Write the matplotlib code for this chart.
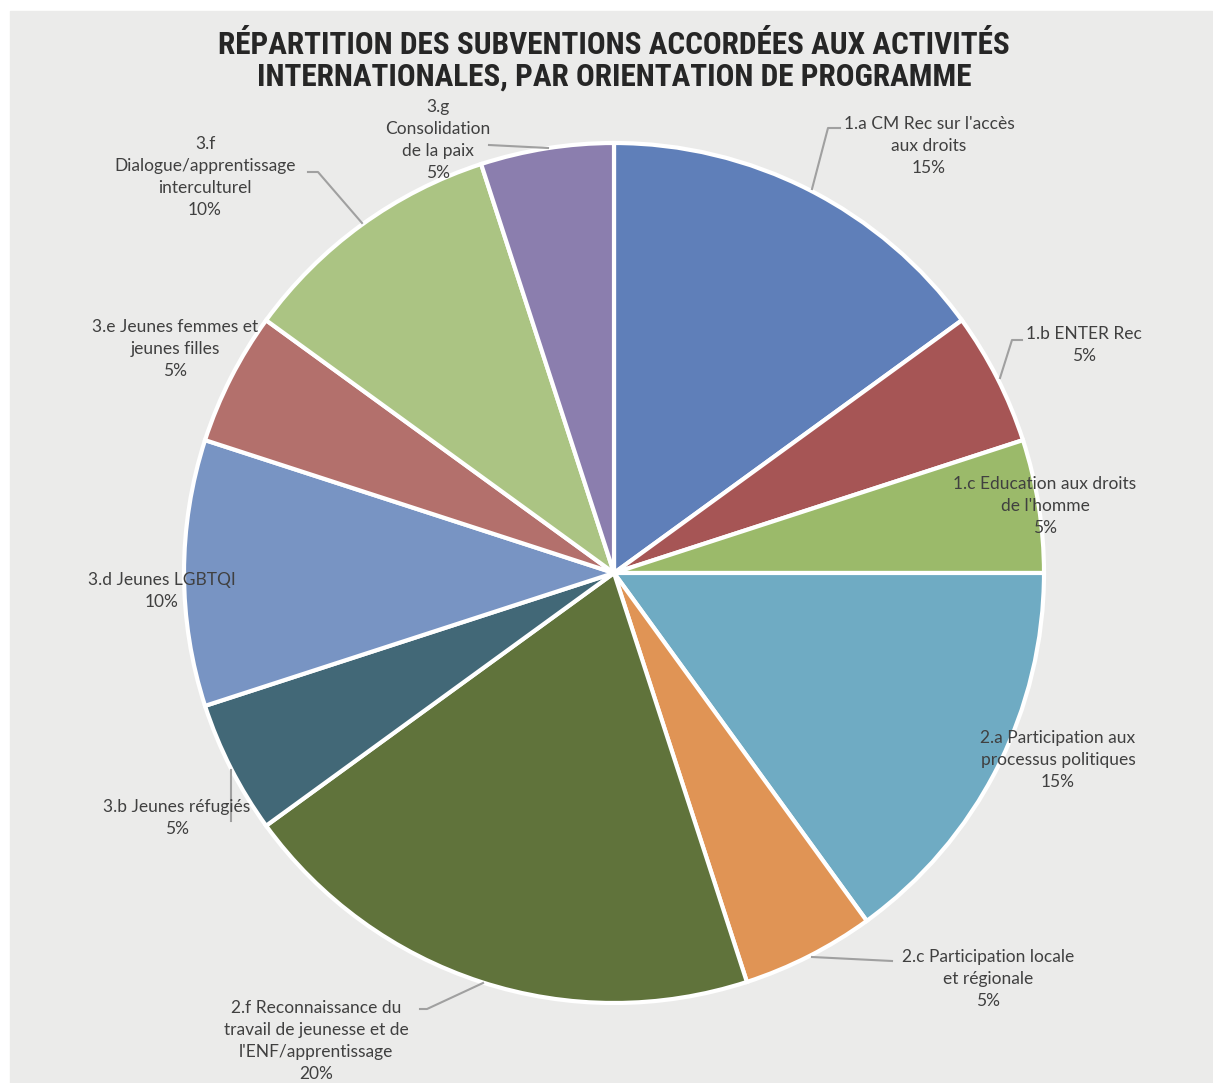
import matplotlib.pyplot as plt
from matplotlib.patches import Rectangle

# Data
labels = ["1.a CM Rec sur l'accès\naux droits", "1.b ENTER Rec", "1.c Education aux droits\nde l'homme",
          "2.a Participation aux\nprocessus politiques", "2.c Participation locale\net régionale",
          "2.f Reconnaissance du\ntravail de jeunesse et de\nl'ENF/apprentissage", "3.b Jeunes réfugiés",
          "3.d Jeunes LGBTQI", "3.e Jeunes femmes et\njeunes filles", "3.f\nDialogue/apprentissage\ninterculturel",
          "3.g\nConsolidation\nde la paix"]
shares = [15, 5, 5, 15, 5, 20, 5, 10, 5, 10, 5]
colors = ['#5F7FB9', '#A65555', '#9BBA6A', '#6FABC3', '#E09455', '#60733B',
          '#426877', '#7894C3', '#B3706C', '#ABC483', '#8B7EAE']

W, H = 1213, 1083
fig = plt.figure(figsize=(W / 100, H / 100), dpi=100)
ax = fig.add_axes([0, 0, 1, 1])

# gray background panel
ax.add_patch(Rectangle((10, 0), W - 11, H - 11, color='#EBEBEA', zorder=0))

cx, cy, r = 614, H - 573, 430
ax.pie(shares, colors=colors, startangle=90, counterclock=False, center=(cx, cy), radius=r,
       wedgeprops=dict(edgecolor='white', linewidth=3), frame=True)
ax.set_xlim(0, W)
ax.set_ylim(0, H)
ax.set_aspect('equal')
ax.axis('off')

font = ['Lato', 'DejaVu Sans']
txt = '#404040'

# label positions (center x, top line y) in image pixels
label_pos = [(929, 123), (1084, 333), (1045, 483), (1058, 737), (988, 956), (316, 1007),
             (177, 806), (162, 579), (175, 326), (205, 143), (438, 106)]
for lab, s, (lx, ly) in zip(labels, shares, label_pos):
    ax.text(lx, H - ly + 7, f"{lab}\n{s}%", ha='center', va='top', fontsize=12.5,
            color=txt, family=font, linespacing=1.45)

# leader lines
leaders = [[(812, 189), (828, 128), (840, 128)],
           [(1000, 378), (1012, 340), (1022, 340)],
           [(812, 957), (892, 961)],
           [(483, 983), (427, 1009), (420, 1009)],
           [(231, 770), (231, 821)],
           [(308, 172), (318, 172), (362, 223)],
           [(489, 145), (548, 148)]]
for pts in leaders:
    ax.plot([p[0] for p in pts], [H - p[1] for p in pts], color='#A0A0A0', lw=1.5, zorder=1)

fig.text(614 / W, 1 - 61 / H, "RÉPARTITION DES SUBVENTIONS ACCORDÉES AUX ACTIVITÉS\n"
         "INTERNATIONALES, PAR ORIENTATION DE PROGRAMME", ha='center', va='center',
         fontsize=22.5, fontweight='bold', color='#262626',
         family=['Roboto Condensed', 'Roboto', 'DejaVu Sans'], linespacing=1.05)

plt.savefig('out.png', dpi=100, facecolor='white')
